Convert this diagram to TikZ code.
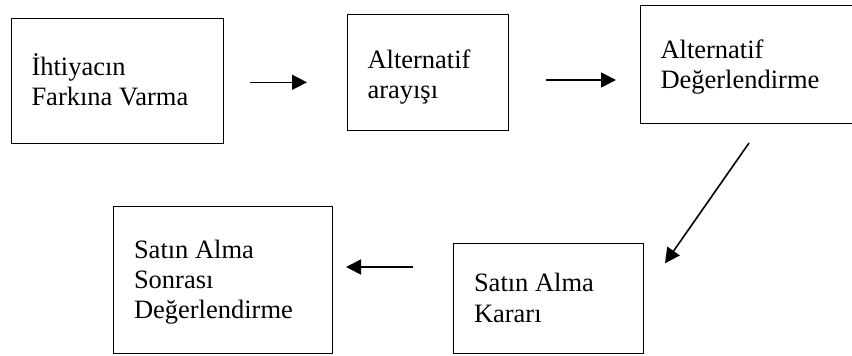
\documentclass[tikz,border=0pt]{standalone}
\usepackage{fontspec}
\setmainfont{Liberation Serif}
\usetikzlibrary{arrows.meta}
\begin{document}
\begin{tikzpicture}[x=1pt,y=-1pt,
  box/.style={draw=black, line width=1pt, inner sep=0pt, outer sep=0pt, rectangle},
  lbl/.style={anchor=base west, inner sep=0pt, outer sep=0pt, font=\fontsize{26.5}{30}\selectfont},
  flow/.style={line width=1.6pt, -{Triangle[length=15pt,width=15pt]}}]
\useasboundingbox (0,0) rectangle (852,356);
% boxes
\node[box, minimum width=212pt, minimum height=125pt] (b1) at (117,80.5) {};
\node[box, minimum width=161pt, minimum height=116pt] (b2) at (427.5,72) {};
\node[box, minimum width=217pt, minimum height=118pt] (b3) at (748.5,64) {};
\node[box, minimum width=190pt, minimum height=110pt] (b4) at (548,298) {};
\node[box, minimum width=219pt, minimum height=147pt] (b5) at (222.5,279.5) {};
% texts
\node[lbl] (t1a) at (31.5,75) {İhtiyacın};
\node[lbl] (t1b) at (31.5,105) {Farkına Varma};
\node[lbl] (t2a) at (367.5,68.3) {Alternatif};
\node[lbl] (t2b) at (367.5,98.3) {arayışı};
\node[lbl] (t3a) at (660.5,58.3) {Alternatif};
\node[lbl] (t3b) at (660.5,88.3) {Değerlendirme};
\node[lbl] (t4a) at (474,291.7) {Satın Alma};
\node[lbl] (t4b) at (474,322.5) {Kararı};
\node[lbl] (t5a) at (134,258.3) {Satın Alma};
\node[lbl] (t5b) at (134,288.3) {Sonrası};
\node[lbl] (t5c) at (134,318.3) {Değerlendirme};
% arrows
\coordinate (a1s) at (250,82.3);
\coordinate (a1e) at (307,82.3);
\coordinate (a2s) at (546,80);
\coordinate (a2e) at (616,80);
\coordinate (a3s) at (749,143);
\coordinate (a3e) at (665,263.3);
\coordinate (a4s) at (413,267);
\coordinate (a4e) at (346,267);
\draw[flow] (a1s) -- (a1e);
\draw[flow] (a2s) -- (a2e);
\draw[flow] (a3s) -- (a3e);
\draw[flow] (a4s) -- (a4e);
\end{tikzpicture}
\end{document}
